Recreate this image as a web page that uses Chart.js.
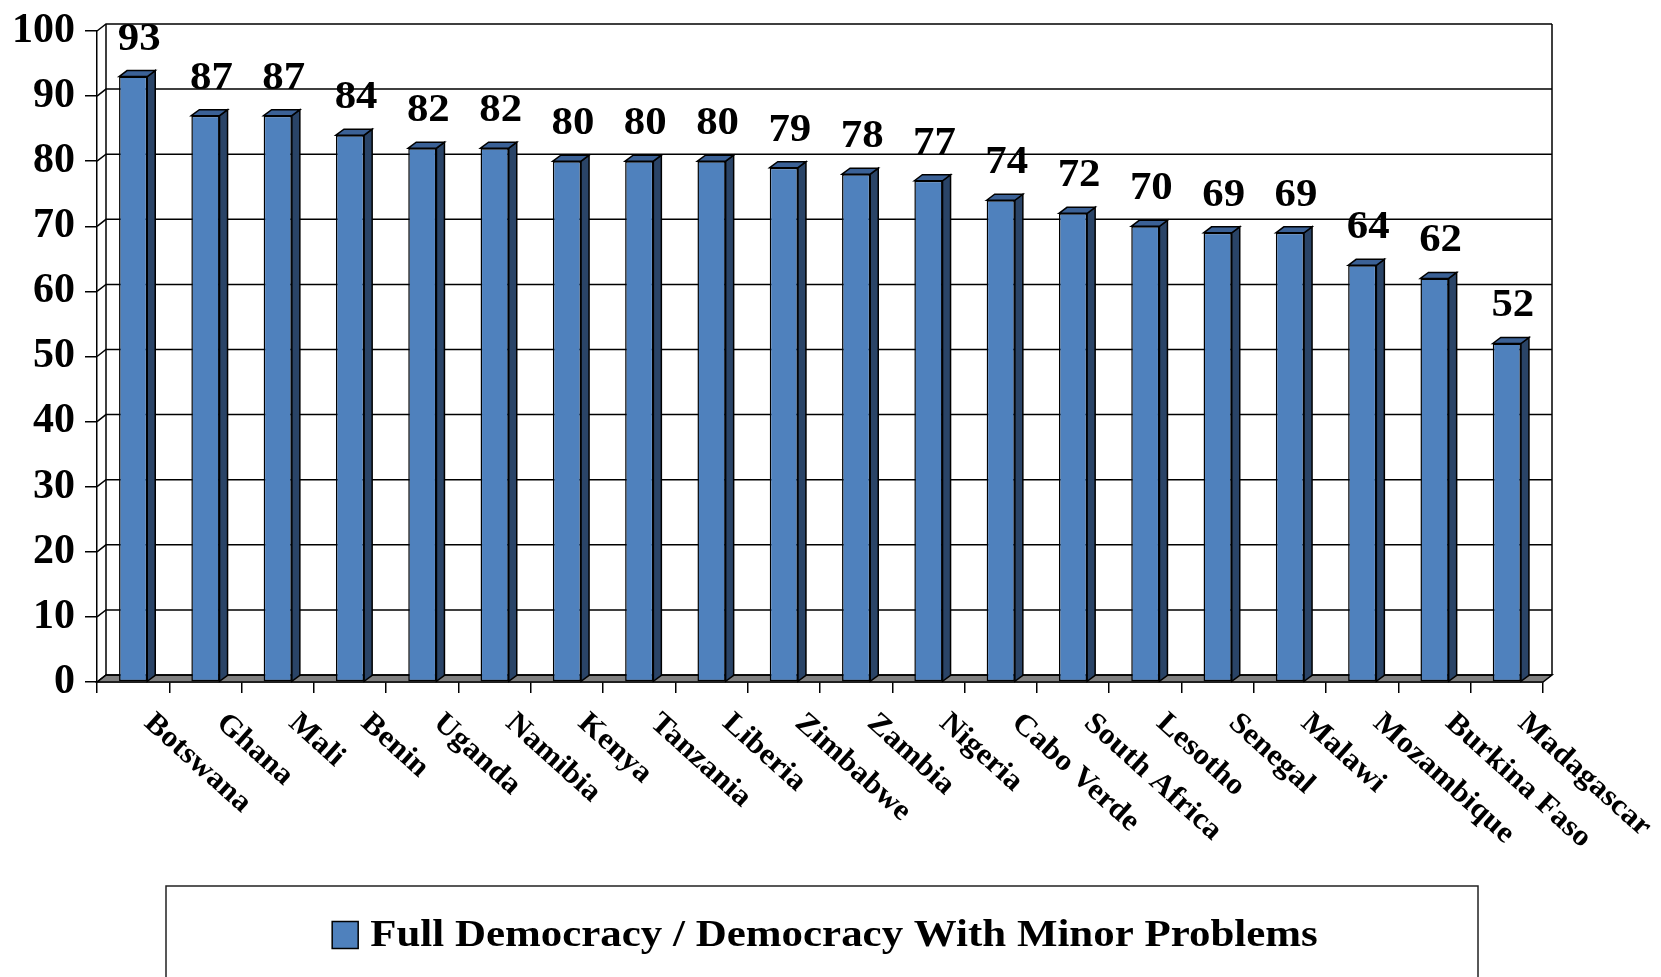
<!DOCTYPE html>
<html>
<head>
<meta charset="utf-8">
<script src="https://cdn.jsdelivr.net/npm/chart.js@4.4.1/dist/chart.umd.min.js"></script>
<style>
  html, body { margin: 0; padding: 0; background: #ffffff; overflow: hidden; }
  #wrap { width: 1661px; height: 977px; position: relative; }
</style>
</head>
<body>
<div id="wrap"><canvas id="c" width="1661" height="977"></canvas></div>
<script>
// ---------- data ----------
const countries = ["Botswana", "Ghana", "Mali", "Benin", "Uganda", "Namibia", "Kenya", "Tanzania", "Liberia", "Zimbabwe",
                   "Zambia", "Nigeria", "Cabo Verde", "South Africa", "Lesotho", "Senegal", "Malawi", "Mozambique", "Burkina Faso", "Madagascar"];
const shares = [93, 87, 87, 84, 82, 82, 80, 80, 80, 79, 78, 77, 74, 72, 70, 69, 69, 64, 62, 52];
const seriesName = "Full Democracy / Democracy With Minor Problems";
const yTickValues = [0, 10, 20, 30, 40, 50, 60, 70, 80, 90, 100];

// ---------- style ----------
const SERIF = '"Liberation Serif", "Times New Roman", Times, serif';
const FRONT = '#4F81BD', TOPC = '#3B6196', SIDE = '#2A4467';
const DX = 9, DY = 7;     // wall depth
const BDX = 8, BDY = 6;   // bar depth

function wideText(ctx, text, x, y, sx) {
  ctx.save();
  ctx.translate(x, y);
  ctx.scale(sx, 1);
  ctx.fillText(text, 0, 0);
  ctx.restore();
}

const wallPlugin = {
  id: 'wall3d',
  beforeDatasetsDraw(chart) {
    const { ctx, chartArea: a, scales: { y } } = chart;
    const yb = y.getPixelForValue(yTickValues[0]);
    const yt = y.getPixelForValue(yTickValues[yTickValues.length - 1]);
    ctx.save();
    ctx.lineWidth = 1.5;
    ctx.strokeStyle = '#000';
    // floor
    ctx.beginPath();
    ctx.moveTo(a.left, yb);
    ctx.lineTo(a.left + DX, yb - DY);
    ctx.lineTo(a.right + DX, yb - DY);
    ctx.lineTo(a.right, yb);
    ctx.closePath();
    ctx.fillStyle = '#808080';
    ctx.fill();
    ctx.stroke();
    // grid lines on side wall + back wall
    yTickValues.forEach(v => {
      const py = y.getPixelForValue(v);
      ctx.beginPath();
      ctx.moveTo(a.left, py);
      ctx.lineTo(a.left + DX, py - DY);
      ctx.lineTo(a.right + DX, py - DY);
      ctx.stroke();
    });
    // wall edges
    ctx.beginPath();
    ctx.moveTo(a.left + DX, yt - DY); ctx.lineTo(a.left + DX, yb - DY);
    ctx.moveTo(a.right + DX, yt - DY); ctx.lineTo(a.right + DX, yb - DY);
    ctx.stroke();
    ctx.restore();
  }
};

const barPlugin = {
  id: 'bar3d',
  afterDatasetsDraw(chart) {
    const { ctx } = chart;
    const meta = chart.getDatasetMeta(0);
    const data = chart.data.datasets[0].data;
    ctx.save();
    ctx.lineWidth = 1.5;
    ctx.strokeStyle = '#000';
    meta.data.forEach((bar, i) => {
      const { x, y: top, base, width } = bar.getProps(['x', 'y', 'base', 'width'], true);
      const l = x - width / 2, r = x + width / 2;
      // side face
      ctx.beginPath();
      ctx.moveTo(r, top); ctx.lineTo(r + BDX, top - BDY); ctx.lineTo(r + BDX, base - BDY); ctx.lineTo(r, base);
      ctx.closePath();
      ctx.fillStyle = SIDE; ctx.fill(); ctx.stroke();
      // top face
      ctx.beginPath();
      ctx.moveTo(l, top); ctx.lineTo(l + BDX, top - BDY); ctx.lineTo(r + BDX, top - BDY); ctx.lineTo(r, top);
      ctx.closePath();
      ctx.fillStyle = TOPC; ctx.fill(); ctx.stroke();
      // value label
      ctx.fillStyle = '#000';
      ctx.font = 'bold 40px ' + SERIF;
      ctx.textAlign = 'center';
      ctx.textBaseline = 'alphabetic';
      wideText(ctx, String(data[i]), x + BDX / 2 + 2, top - 27, 1.07);
    });
    ctx.restore();
  }
};

const catLabelPlugin = {
  id: 'catLabels',
  afterDraw(chart) {
    const { ctx, scales: { x } } = chart;
    ctx.save();
    ctx.fillStyle = '#000';
    ctx.font = 'bold 30px ' + SERIF;
    ctx.textAlign = 'left';
    ctx.textBaseline = 'middle';
    chart.data.labels.forEach((lab, i) => {
      const px = x.getPixelForValue(i);
      ctx.save();
      ctx.translate(px + 15, x.top + 37);
      ctx.rotate(42 * Math.PI / 180);
      ctx.scale(1.06, 1);
      ctx.fillText(lab, 0, 0);
      ctx.restore();
    });
    ctx.restore();
  }
};

const legendPlugin = {
  id: 'legendBox',
  afterDraw(chart) {
    const { ctx } = chart;
    const ds = chart.data.datasets[0];
    const fL = 166, fT = 886, fR = 1478, fB = 1000;
    const SX = 1.13;
    ctx.save();
    ctx.strokeStyle = '#222';
    ctx.lineWidth = 1.5;
    ctx.strokeRect(fL, fT, fR - fL, fB - fT);
    ctx.font = 'bold 38px ' + SERIF;
    const tw = ctx.measureText(ds.label).width * SX;
    const sw = 26, sh = 27, gap = 12;
    const total = sw + gap + tw;
    const sx = (fL + fR) / 2 - total / 2 + 3;
    const cy = 935;
    ctx.fillStyle = FRONT;
    ctx.fillRect(sx, cy - sh / 2, sw, sh);
    ctx.strokeStyle = '#000';
    ctx.strokeRect(sx, cy - sh / 2, sw, sh);
    ctx.fillStyle = '#000';
    ctx.textAlign = 'left';
    ctx.textBaseline = 'middle';
    wideText(ctx, ds.label, sx + sw + gap, cy + 1, SX);
    ctx.restore();
  }
};

Chart.defaults.color = '#000';
Chart.defaults.font.family = SERIF;

new Chart(document.getElementById('c'), {
  type: 'bar',
  data: {
    labels: countries,
    datasets: [{
      label: seriesName,
      data: shares,
      backgroundColor: FRONT,
      borderColor: '#000',
      borderWidth: 1.5,
      borderSkipped: false,
      categoryPercentage: 1.0,
      barPercentage: 0.39
    }]
  },
  options: {
    responsive: false,
    animation: false,
    devicePixelRatio: 1,
    layout: { padding: { left: 0, right: 118, top: 21, bottom: 0 } },
    plugins: {
      legend: { display: false },
      tooltip: { enabled: false }
    },
    scales: {
      x: {
        offset: true,
        grid: { display: true, drawOnChartArea: false, drawTicks: true, tickLength: 11, color: '#000', lineWidth: 1.5, offset: true },
        border: { display: true, color: '#000', width: 1.5 },
        ticks: { display: false },
        afterFit(s) { s.height = 977 - 682; }
      },
      y: {
        min: yTickValues[0],
        max: yTickValues[yTickValues.length - 1],
        afterBuildTicks(s) { s.ticks = yTickValues.map(v => ({ value: v })); },
        grid: { display: true, drawOnChartArea: false, drawTicks: true, tickLength: 12, color: '#000', lineWidth: 1.5 },
        border: { display: true, color: '#000', width: 1.5 },
        ticks: { font: { size: 42, weight: 'bold', family: SERIF, lineHeight: 1 }, padding: 10, color: '#000' },
        afterFit(s) { s.width = 97; }
      }
    }
  },
  plugins: [wallPlugin, barPlugin, catLabelPlugin, legendPlugin]
});
</script>
</body>
</html>
